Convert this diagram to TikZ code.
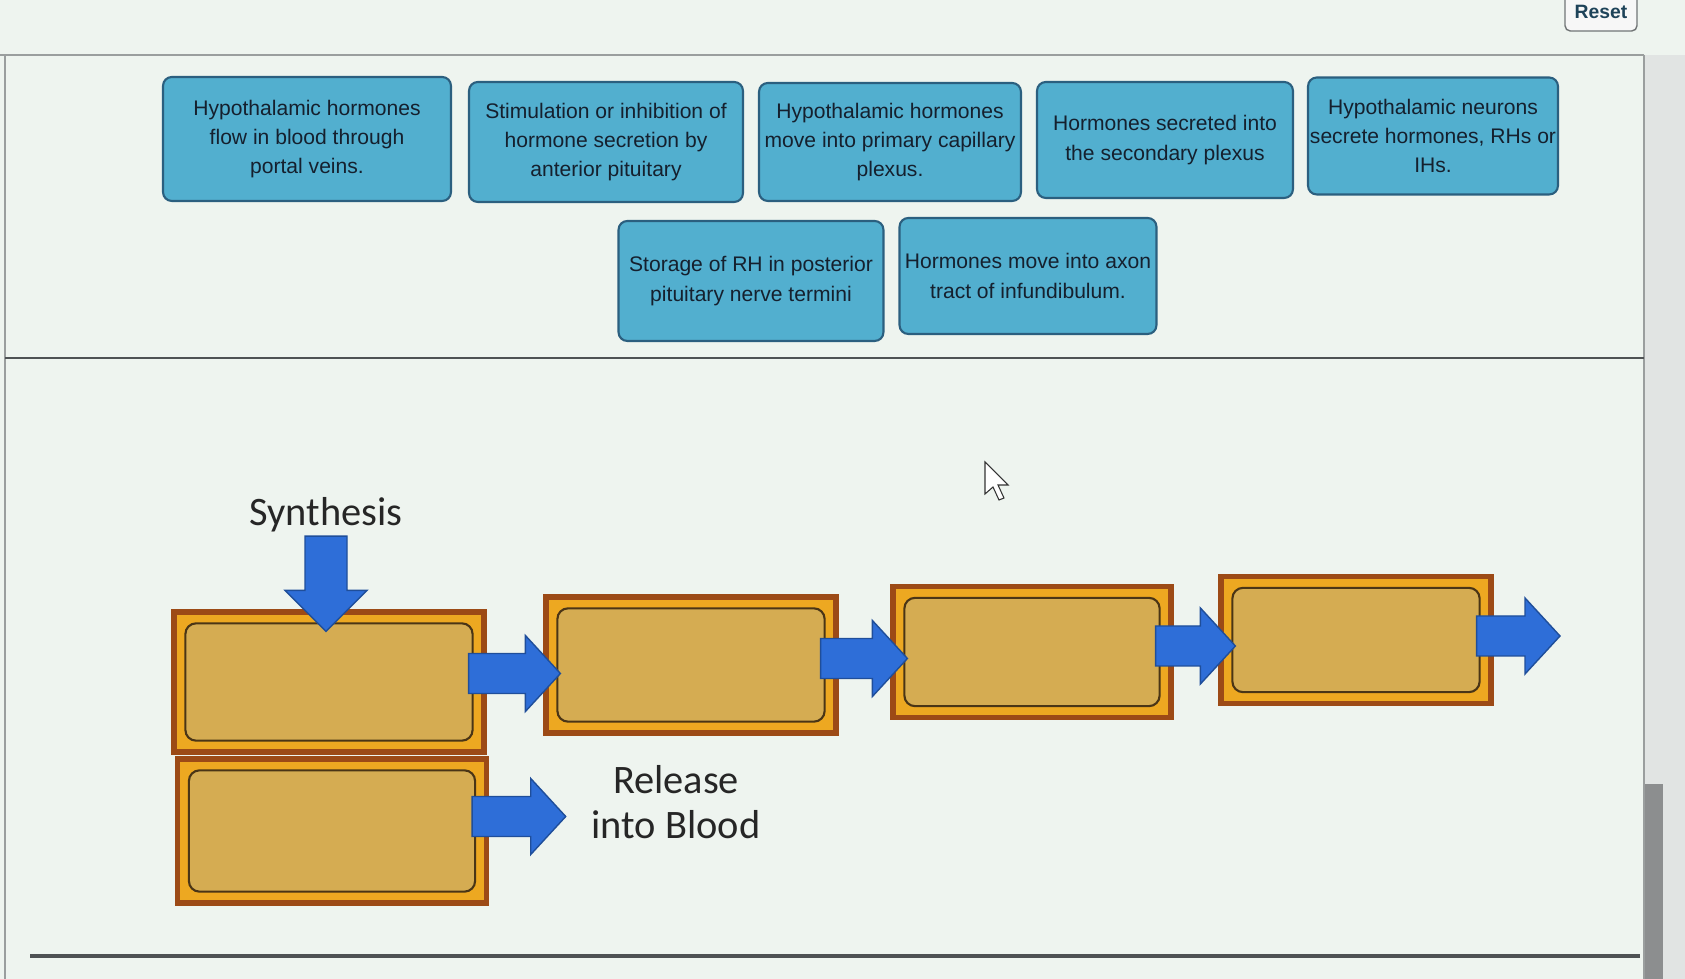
\documentclass[tikz,border=0pt]{standalone}
\usepackage{fontspec}
\newfontfamily\cardfont{Liberation Sans}
\newfontfamily\slidefont{Carlito}
\usetikzlibrary{positioning,calc}
\definecolor{PanelBg}{HTML}{EEF4EF}
\definecolor{MarginBg}{HTML}{E1E4E3}
\definecolor{ScrollGray}{HTML}{8C8E8F}
\definecolor{LineGray}{HTML}{9A9E9E}
\definecolor{LineDark}{HTML}{4E5254}
\definecolor{CardBlue}{HTML}{52AFCF}
\definecolor{CardEdge}{HTML}{2B5F7F}
\definecolor{CardText}{HTML}{15202E}
\definecolor{BoxBrown}{HTML}{9C4A16}
\definecolor{BoxBand}{HTML}{EDA821}
\definecolor{BoxEdge}{HTML}{4A3516}
\definecolor{BoxFill}{HTML}{D5AC52}
\definecolor{ArrowBlue}{HTML}{2E6ED8}
\definecolor{ArrowEdge}{HTML}{1F4E9A}
\definecolor{SlideText}{HTML}{262626}

\tikzset{
  card/.style={draw=CardEdge, fill=CardBlue, line width=1.2pt, rounded corners=5pt,
    align=center, text=CardText, inner sep=1pt,
    font=\cardfont\fontsize{12}{16.7}\selectfont},
  orangebox/.style={draw=BoxBrown, line width=3pt, fill=BoxBand, inner sep=0pt},
  innerbox/.style={draw=BoxEdge, line width=1.2pt, rounded corners=6pt, fill=BoxFill},
  blockarrow/.style={draw=ArrowEdge, fill=ArrowBlue, line width=0.8pt, line join=miter},
  slidetext/.style={text=SlideText, align=center, inner sep=2pt,
    font=\slidefont\fontsize{23}{25.5}\selectfont},
  resetbtn/.style={draw=LineDark!80, fill=white!94!gray, rounded corners=3pt, line width=0.8pt,
    text=CardEdge!70!black, font=\cardfont\bfseries\fontsize{11}{13}\selectfont}
}

% block arrows: #1 = start of shaft, #2 = tip
\newcommand{\rarrow}[2]{%
  \filldraw[blockarrow] ($(#1)+(0,-20)$) -- ($(#2)+(-35,-20)$) -- ($(#2)+(-35,-38)$) -- (#2)
    -- ($(#2)+(-35,38)$) -- ($(#2)+(-35,20)$) -- ($(#1)+(0,20)$) -- cycle;}
\newcommand{\darrow}[2]{%
  \filldraw[blockarrow] ($(#1)+(-21,0)$) -- ($(#2)+(-21,-41)$) -- ($(#2)+(-41,-41)$) -- (#2)
    -- ($(#2)+(41,-41)$) -- ($(#2)+(21,-41)$) -- ($(#1)+(21,0)$) -- cycle;}

\begin{document}
\begin{tikzpicture}[x=0.02cm, y=-0.02cm]
\useasboundingbox (0,0) rectangle (1685,979);
\clip (0,0) rectangle (1685,979);

% screen frame
\fill[PanelBg] (0,0) rectangle (1685,979);
\fill[MarginBg] (1644,55) rectangle (1685,979);
\fill[ScrollGray] (1644,784) rectangle (1663,979);
\draw[LineGray, line width=0.8pt] (0,55) -- (1644,55);
\draw[LineGray, line width=1pt] (5,55) -- (5,979);
\draw[LineGray, line width=1pt] (1644,55) -- (1644,979);
\draw[LineDark, line width=1.5pt] (5,358) -- (1644,358);
\draw[LineDark, line width=2pt] (30,956) -- (1640,956);
\node[resetbtn, minimum width=1.44cm, minimum height=0.76cm] (reset) at (1601,12) {Reset};

% answer cards
\node[card, minimum width=5.76cm, minimum height=2.48cm] (c1) at (307,139) {Hypothalamic hormones\\flow in blood through\\portal veins.};
\node[card, minimum width=5.48cm, minimum height=2.40cm] (c2) at (606,142) {Stimulation or inhibition of\\hormone secretion by\\anterior pituitary};
\node[card, minimum width=5.24cm, minimum height=2.36cm] (c3) at (890,142) {Hypothalamic hormones\\move into primary capillary\\plexus.};
\node[card, minimum width=5.12cm, minimum height=2.32cm] (c4) at (1165,140) {Hormones secreted into\\the secondary plexus};
\node[card, minimum width=5.00cm, minimum height=2.34cm] (c5) at (1433,136) {Hypothalamic neurons\\secrete hormones, RHs or\\IHs.};
\node[card, minimum width=5.30cm, minimum height=2.40cm] (c6) at (751,281) {Storage of RH in posterior\\pituitary nerve termini};
\node[card, minimum width=5.14cm, minimum height=2.32cm] (c7) at (1028,276) {Hormones move into axon\\tract of infundibulum.};

% drop targets
\node[orangebox, minimum width=6.2cm, minimum height=2.8cm] (A) at (329,682) {};
\node[orangebox, minimum width=5.8cm, minimum height=2.72cm] (B) at (691,665) {};
\node[orangebox, minimum width=5.56cm, minimum height=2.62cm] (C) at (1032,652) {};
\node[orangebox, minimum width=5.4cm, minimum height=2.54cm] (D) at (1356,640) {};
\node[orangebox, minimum width=6.18cm, minimum height=2.88cm] (E) at (332,831) {};
\foreach \b in {A,B,C,D,E}
  \draw[innerbox] ([shift={(14,14)}]\b.north west) rectangle ([shift={(-14,-14)}]\b.south east);

\node[slidetext] (syn) at (326,515) {Synthesis};
\node[slidetext] (rel) at (676,802) {Release\\into Blood};

% arrows
\coordinate (synTip) at ($(syn.south -| A.north)+(0,0)$);
\darrow{syn.south}{$(syn.south |- A.north)+(0,22)$}
\foreach \a/\b in {A/B,B/C,C/D}{
  \coordinate (m\a) at ($(\a.east)!.5!(\b.west)$);
  \coordinate (s\a) at ($(\a.east |- m\a)+(-18,0)$);
  \coordinate (t\a) at ($(\b.west |- m\a)+(17,0)$);
  \rarrow{s\a}{t\a}
}
\coordinate (dout) at (1560,636);
\coordinate (sD) at ($(D.east |- dout)+(-17,0)$);
\rarrow{sD}{dout}
\coordinate (mE) at ($(E.east)!.5!(rel.west)$);
\coordinate (sE) at ($(E.east |- mE)+(-17,0)$);
\coordinate (tE) at ($(rel.west |- mE)+(-22,0)$);
\rarrow{sE}{tE}

% mouse pointer
\filldraw[fill=white, draw=black!80, line width=0.6pt] (985,462) -- (985,494) -- (993,487) -- (999,500)
  -- (1004,498) -- (998,485) -- (1008,485) -- cycle;
\end{tikzpicture}
\end{document}
